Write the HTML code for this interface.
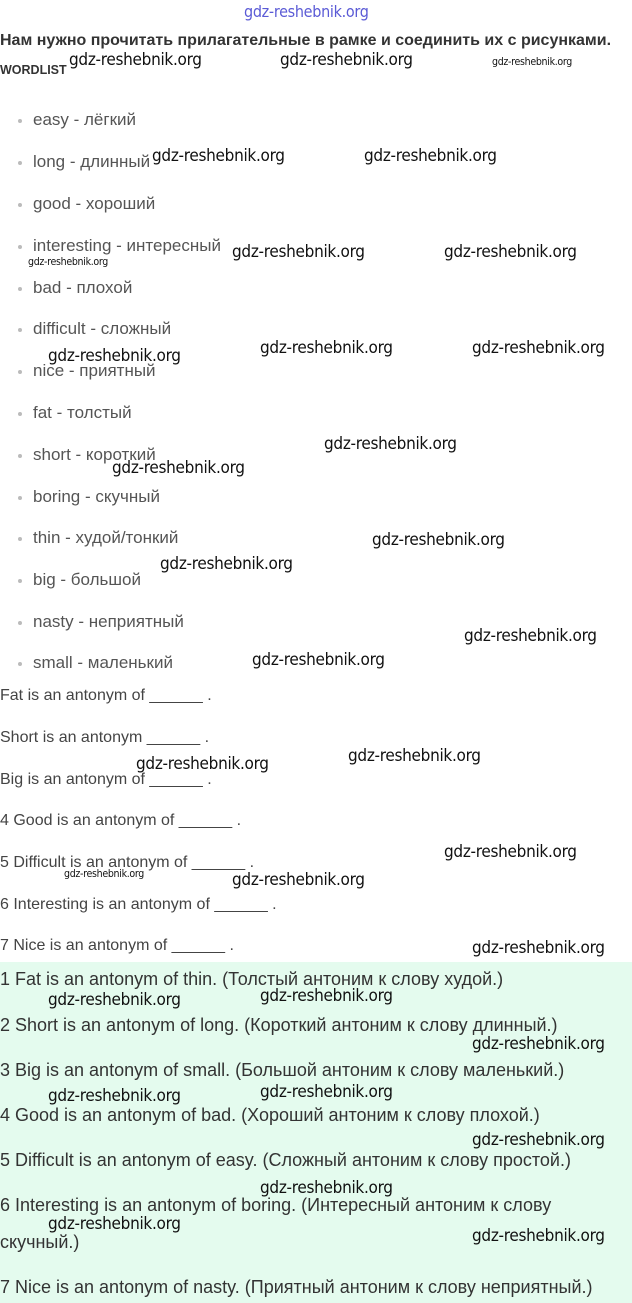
<!DOCTYPE html>
<html><head><meta charset="utf-8"><style>
body{margin:0;width:632px;height:1303px;position:relative;background:#fff;overflow:hidden;font-family:"Liberation Sans",sans-serif}
.t{position:absolute;white-space:nowrap;line-height:18px;color:#444;font-size:16px}
.li{left:33px;color:#555;font-size:17px}
.b{position:absolute;left:18px;width:4px;height:4px;background:#bbb;border-radius:50%}
.w{position:absolute;white-space:nowrap;line-height:18px;font-size:17px;color:#111;font-family:"DejaVu Sans Condensed","Liberation Sans",sans-serif;letter-spacing:-0.3px}
.s{font-size:10.5px}
.g{position:absolute;left:0;top:962px;width:632px;height:341px;background:#e4fbee}
.a{color:#333;font-size:18px}
</style></head><body>
<div class="g"></div>
<div class="w" style="left:244px;top:3px;color:#5b5bd6;font-size:16px">gdz-reshebnik.org</div>
<div class="t" style="left:0;top:32px;font-weight:bold;color:#333;font-size:16px">Нам нужно прочитать прилагательные в рамке и соединить их с рисунками.</div>
<div class="t" style="left:0;top:61px;font-weight:bold;color:#333;font-size:12.5px">WORDLIST</div>

<div class="b" style="top:119px"></div><div class="t li" style="top:111px">easy - лёгкий</div>
<div class="b" style="top:161px"></div><div class="t li" style="top:153px">long - длинный</div>
<div class="b" style="top:203px"></div><div class="t li" style="top:195px">good - хороший</div>
<div class="b" style="top:245px"></div><div class="t li" style="top:237px">interesting - интересный</div>
<div class="b" style="top:287px"></div><div class="t li" style="top:279px">bad - плохой</div>
<div class="b" style="top:328px"></div><div class="t li" style="top:320px">difficult - сложный</div>
<div class="b" style="top:370px"></div><div class="t li" style="top:362px">nice - приятный</div>
<div class="b" style="top:412px"></div><div class="t li" style="top:404px">fat - толстый</div>
<div class="b" style="top:454px"></div><div class="t li" style="top:446px">short - короткий</div>
<div class="b" style="top:496px"></div><div class="t li" style="top:488px">boring - скучный</div>
<div class="b" style="top:537px"></div><div class="t li" style="top:529px">thin - худой/тонкий</div>
<div class="b" style="top:579px"></div><div class="t li" style="top:571px">big - большой</div>
<div class="b" style="top:621px"></div><div class="t li" style="top:613px">nasty - неприятный</div>
<div class="b" style="top:662px"></div><div class="t li" style="top:654px">small - маленький</div>

<div class="t" style="left:0;top:687px">Fat is an antonym of ______ .</div>
<div class="t" style="left:0;top:729px">Short is an antonym ______ .</div>
<div class="t" style="left:0;top:771px">Big is an antonym of ______ .</div>
<div class="t" style="left:0;top:812px">4 Good is an antonym of ______ .</div>
<div class="t" style="left:0;top:854px">5 Difficult is an antonym of ______ .</div>
<div class="t" style="left:0;top:896px">6 Interesting is an antonym of ______ .</div>
<div class="t" style="left:0;top:937px">7 Nice is an antonym of ______ .</div>

<div class="t a" style="left:0;top:970px">1 Fat is an antonym of thin. (Толстый антоним к слову худой.)</div>
<div class="t a" style="left:0;top:1016px">2 Short is an antonym of long. (Короткий антоним к слову длинный.)</div>
<div class="t a" style="left:0;top:1061px">3 Big is an antonym of small. (Большой антоним к слову маленький.)</div>
<div class="t a" style="left:0;top:1106px">4 Good is an antonym of bad. (Хороший антоним к слову плохой.)</div>
<div class="t a" style="left:0;top:1151px">5 Difficult is an antonym of easy. (Сложный антоним к слову простой.)</div>
<div class="t a" style="left:0;top:1196px">6 Interesting is an antonym of boring. (Интересный антоним к слову</div>
<div class="t a" style="left:0;top:1233px">скучный.)</div>
<div class="t a" style="left:0;top:1278px">7 Nice is an antonym of nasty. (Приятный антоним к слову неприятный.)</div>

<div class="w" style="left:69px;top:51px">gdz-reshebnik.org</div>
<div class="w" style="left:280px;top:51px">gdz-reshebnik.org</div>
<div class="w s" style="left:492px;top:53px">gdz-reshebnik.org</div>
<div class="w" style="left:152px;top:147px">gdz-reshebnik.org</div>
<div class="w" style="left:364px;top:147px">gdz-reshebnik.org</div>
<div class="w s" style="left:28px;top:253px">gdz-reshebnik.org</div>
<div class="w" style="left:232px;top:243px">gdz-reshebnik.org</div>
<div class="w" style="left:444px;top:243px">gdz-reshebnik.org</div>
<div class="w" style="left:48px;top:347px">gdz-reshebnik.org</div>
<div class="w" style="left:260px;top:339px">gdz-reshebnik.org</div>
<div class="w" style="left:472px;top:339px">gdz-reshebnik.org</div>
<div class="w" style="left:324px;top:435px">gdz-reshebnik.org</div>
<div class="w" style="left:112px;top:459px">gdz-reshebnik.org</div>
<div class="w" style="left:372px;top:531px">gdz-reshebnik.org</div>
<div class="w" style="left:160px;top:555px">gdz-reshebnik.org</div>
<div class="w" style="left:464px;top:627px">gdz-reshebnik.org</div>
<div class="w" style="left:252px;top:651px">gdz-reshebnik.org</div>
<div class="w" style="left:348px;top:747px">gdz-reshebnik.org</div>
<div class="w" style="left:136px;top:755px">gdz-reshebnik.org</div>
<div class="w" style="left:444px;top:843px">gdz-reshebnik.org</div>
<div class="w s" style="left:64px;top:865px">gdz-reshebnik.org</div>
<div class="w" style="left:232px;top:871px">gdz-reshebnik.org</div>
<div class="w" style="left:472px;top:939px">gdz-reshebnik.org</div>
<div class="w" style="left:48px;top:991px">gdz-reshebnik.org</div>
<div class="w" style="left:260px;top:987px">gdz-reshebnik.org</div>
<div class="w" style="left:472px;top:1035px">gdz-reshebnik.org</div>
<div class="w" style="left:48px;top:1087px">gdz-reshebnik.org</div>
<div class="w" style="left:260px;top:1083px">gdz-reshebnik.org</div>
<div class="w" style="left:472px;top:1131px">gdz-reshebnik.org</div>
<div class="w" style="left:260px;top:1179px">gdz-reshebnik.org</div>
<div class="w" style="left:48px;top:1215px">gdz-reshebnik.org</div>
<div class="w" style="left:472px;top:1227px">gdz-reshebnik.org</div>
</body></html>
